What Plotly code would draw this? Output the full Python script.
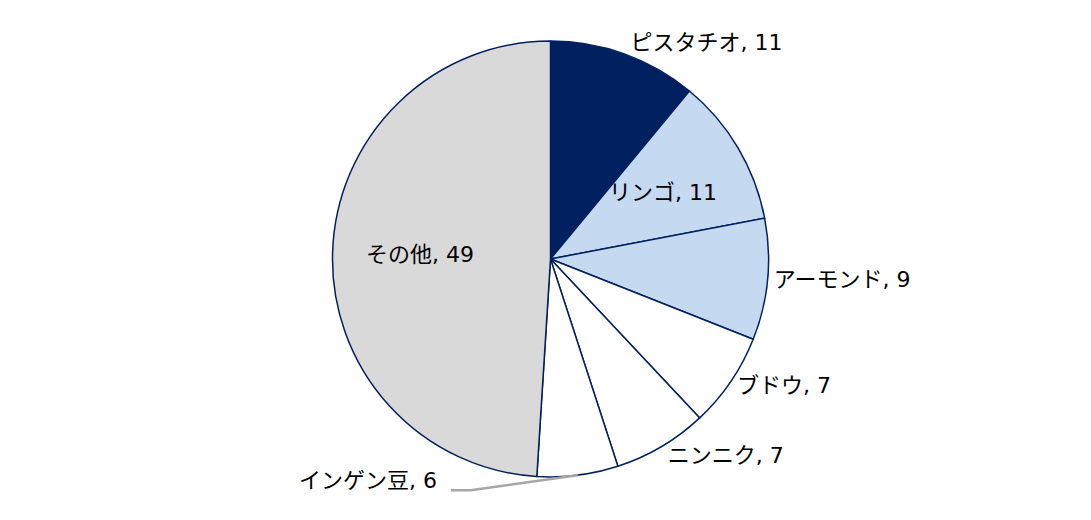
import math
import plotly.graph_objects as go

labels = ['ピスタチオ', 'リンゴ', 'アーモンド', 'ブドウ', 'ニンニク', 'インゲン豆', 'その他']
values = [11, 11, 9, 7, 7, 6, 49]
colors = ['#002060', '#C5D9F1', '#C5D9F1', '#FFFFFF', '#FFFFFF', '#FFFFFF', '#D9D9D9']
text_pos = ['outside', 'none', 'outside', 'outside', 'outside', 'none', 'none']
inside_labels = ['リンゴ', 'その他']
leader_label = 'インゲン豆'

W, H = 1091, 520
margin = dict(l=0, r=6, t=33, b=51)
font = dict(family='DejaVu Sans, Noto Sans CJK JP', size=22, color='#000000')

fig = go.Figure(
    go.Pie(
        labels=labels,
        values=values,
        sort=False,
        direction='clockwise',
        rotation=0,
        marker=dict(colors=colors, line=dict(color='#002060', width=1.5)),
        texttemplate='%{label}, %{value}',
        textposition=text_pos,
        textfont=font,
        automargin=False,
        showlegend=False,
        hoverinfo='label+value',
    )
)

# pie geometry in figure pixels, so labels can follow the slice angles
pw = W - margin['l'] - margin['r']
ph = H - margin['t'] - margin['b']
cx = margin['l'] + pw / 2
cy = margin['t'] + ph / 2
r = min(pw, ph) / 2
total = sum(values)


def px(x):
    return (x - margin['l']) / pw


def py(y):
    return 1 - (y - margin['t']) / ph


def mid_angle(i):
    return (sum(values[:i]) + values[i] / 2) / total * 2 * math.pi


# labels drawn inside the slice
for name in inside_labels:
    i = labels.index(name)
    a = mid_angle(i)
    x = cx + 0.6 * r * math.sin(a)
    y = cy - 0.6 * r * math.cos(a)
    fig.add_annotation(x=px(x), y=py(y), xref='paper', yref='paper',
                       text=f'{labels[i]}, {values[i]}', showarrow=False,
                       xanchor='center', yanchor='middle', font=font)

# leader line + label for the small bottom slice
i = labels.index(leader_label)
a = mid_angle(i)
x0 = cx + r * math.sin(a)
y0 = cy - r * math.cos(a)
x1, y1 = x0 - 107, y0 + 15
x2 = x1 - 20

fig.add_shape(type='path', xref='paper', yref='paper',
              path=f'M {px(x0)},{py(y0)} L {px(x1)},{py(y1)} L {px(x2)},{py(y1)}',
              line=dict(color='#A6A6A6', width=2.5))
fig.add_annotation(x=px(x2 - 12), y=py(y1 - 10), xref='paper', yref='paper',
                   text=f'{labels[i]}, {values[i]}', showarrow=False,
                   xanchor='right', yanchor='middle', font=font)

fig.update_layout(
    width=W, height=H,
    margin=margin,
    paper_bgcolor='#FFFFFF',
    plot_bgcolor='#FFFFFF',
    font=font,
)

fig.write_html('out.html')
